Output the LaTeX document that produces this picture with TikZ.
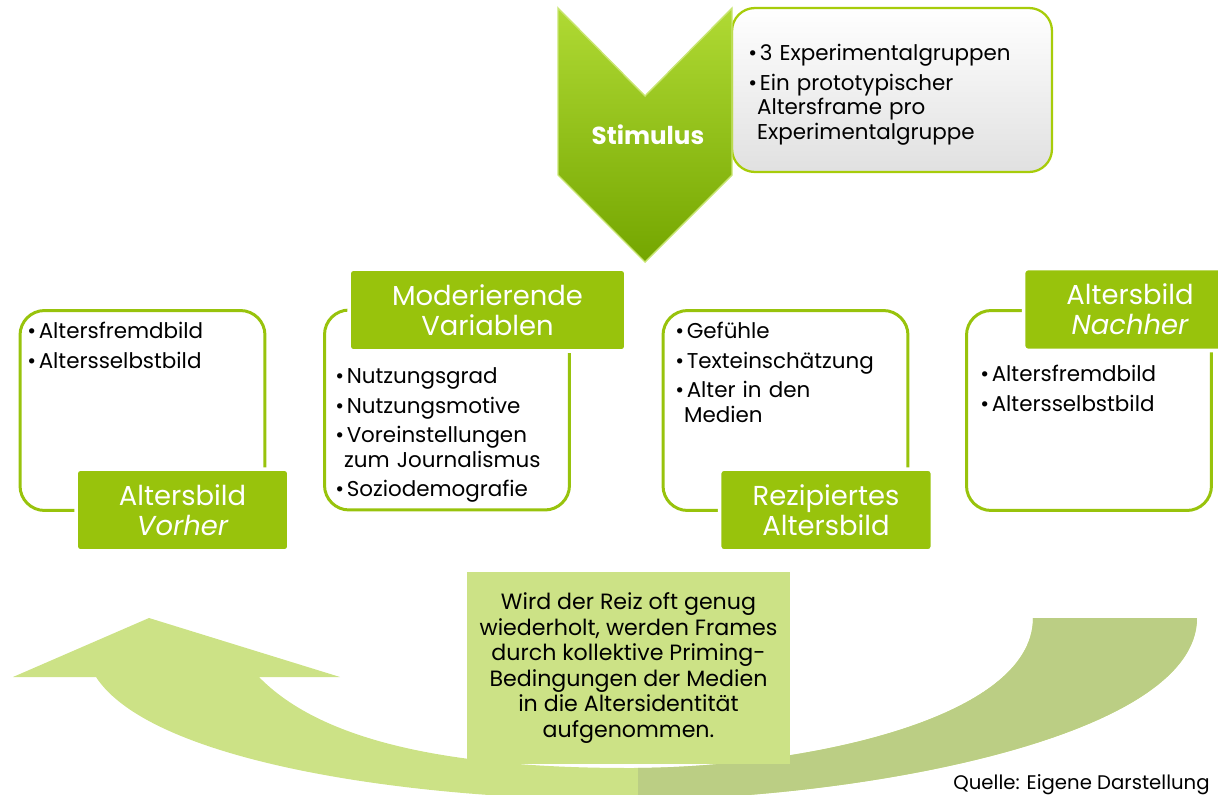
\documentclass[tikz,border=0pt]{standalone}
\usepackage{fontspec}
\setmainfont{Poppins}
\usepackage{tikz}
\usetikzlibrary{positioning,shadings}
\usepackage{xcolor}
\definecolor{limegreen}{RGB}{152,195,12}
\definecolor{palegreen}{RGB}{204,226,134}
\definecolor{sagegreen}{RGB}{187,206,132}
\definecolor{stimtop}{RGB}{176,218,52}
\definecolor{stimbot}{RGB}{116,166,0}
\newcommand{\itm}[1]{\par\noindent\makebox[6.5pt][l]{\textbullet}#1}
\newcommand{\cont}{\\\hspace*{5pt}}
\newcommand{\looppath}{(96,677) .. controls (150,760) and (400,800) .. (630,800)
  .. controls (850,800) and (1197,740) .. (1197,618) -- (1033,618)
  .. controls (1033,720) and (800,768) .. (630,768)
  .. controls (480,768) and (330,750) .. (259,677) -- (340,677) -- (149,618) -- (13,677) -- cycle}

\begin{document}
\begin{tikzpicture}[x=0.02cm,y=-0.02cm,
  outbox/.style={rectangle,rounded corners=14pt,draw=limegreen,line width=1.7pt,
    minimum width=4.9cm,minimum height=4cm},
  tag/.style={rectangle,rounded corners=2.5pt,fill=limegreen,draw=white,line width=2pt,
    text=white,align=center,font=\fontsize{15.6}{17}\selectfont,
    minimum width=4.26cm,minimum height=1.64cm},
  items/.style={anchor=north west,inner sep=0pt,text width=4.7cm,
    font=\fontsize{12.2}{14.2}\selectfont,
    execute at begin node={\raggedright\setlength{\parskip}{2.5pt}}},
  notebox/.style={rectangle,fill=palegreen,align=center,
    font=\fontsize{12.6}{14.5}\selectfont,minimum width=6.46cm,minimum height=3.84cm}
]
\useasboundingbox (0,0) rectangle (1218,795);

% feedback loop
\fill[palegreen] \looppath;
\begin{scope}
  \clip (638,560) rectangle (1218,800);
  \fill[sagegreen] \looppath;
\end{scope}

% stimulus
\node[rectangle,rounded corners=13pt,draw=limegreen!85!yellow,line width=1.3pt,
  top color=white,bottom color=black!12,minimum width=6.4cm,minimum height=3.28cm] (stimbox) at (892,90) {};
\shade[top color=stimtop,bottom color=stimbot,draw=stimtop!70!white,line width=0.8pt]
  (558,8) -- (645,96) -- (732,8) -- (732,175) -- (645,262) -- (558,175) -- cycle;
\node[text=white,font=\fontsize{14}{16}\selectfont\bfseries] (stim) at (648,135) {Stimulus};
\node[items,text width=5.8cm] (stimlist) at (748,31)
  {\itm{3 Experimentalgruppen}\itm{Ein prototypischer\cont Altersframe pro\cont Experimentalgruppe}};

% four blocks
\node[outbox] (vorbox) at (142.5,410.5) {};
\node[outbox] (modbox) at (447,410) {};
\node[outbox] (rezbox) at (785.5,410.5) {};
\node[outbox] (nachbox) at (1089,410.5) {};

\node[tag] (vortag) at (182.5,510) {Altersbild\\\itshape Vorher};
\node[tag,minimum width=5.54cm] (modtag) at (487.5,310) {Moderierende\\Variablen};
\node[tag] (reztag) at (826,510) {Rezipiertes\\Altersbild};
\node[tag] (nachtag) at (1130,309.5) {Altersbild\\\itshape Nachher};

\node[items] (vorlist) at (27,309) {\itm{Altersfremdbild}\itm{Altersselbstbild}};
\node[items] (modlist) at (335,354) {\itm{Nutzungsgrad}\itm{Nutzungsmotive}%
  \itm{Voreinstellungen\cont zum Journalismus}\itm{Soziodemografie}};
\node[items] (rezlist) at (675,309) {\itm{Gefühle}\itm{Texteinschätzung}\itm{Alter in den\cont Medien}};
\node[items] (nachlist) at (980,352) {\itm{Altersfremdbild}\itm{Altersselbstbild}};

% note
\node[notebox] (note) at (628.5,668) {Wird der Reiz oft genug\\wiederholt, werden Frames\\durch kollektive Priming-\\Bedingungen der Medien\\in die Altersidentität\\aufgenommen.};
\node[anchor=base west,inner sep=0pt,font=\fontsize{11.2}{14}\selectfont] (source) at (953,789) {Quelle: Eigene Darstellung};
\end{tikzpicture}
\end{document}
